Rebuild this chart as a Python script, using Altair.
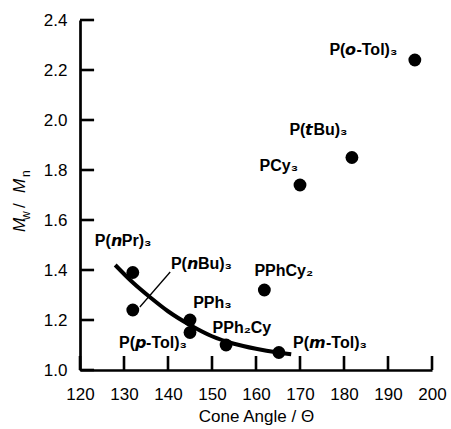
import altair as alt
import pandas as pd

# Data points (cone angle, Mw/Mn)
ligands = ["P(o-Tol)3", "P(tBu)3", "PCy3", "P(nPr)3", "P(nBu)3", "PPh3",
           "P(p-Tol)3", "PPh2Cy", "PPhCy2", "P(m-Tol)3"]
cone = [196.1, 181.8, 170.0, 132.0, 132.0, 145.0, 145.0, 153.2, 161.9, 165.2]
pdi = [2.24, 1.85, 1.74, 1.39, 1.24, 1.20, 1.15, 1.10, 1.32, 1.07]

# Label texts and label anchor positions (data coords)
label_text = ["P(𝙤-Tol)₃", "P(𝙩Bu)₃", "PCy₃", "P(𝙣Pr)₃", "P(𝙣Bu)₃", "PPh₃",
              "P(𝙥-Tol)₃", "PPh₂Cy", "PPhCy₂", "P(𝙢-Tol)₃"]
label_x = [184.4, 174.2, 165.2, 129.8, 147.6, 150.1, 136.6, 156.8, 166.3, 176.8]
label_y = [2.28, 1.96, 1.816, 1.516, 1.424, 1.268, 1.108, 1.168, 1.396, 1.108]

# Fitted trend curve
curve_x = [128, 132, 136, 140, 145, 150, 155, 160, 165, 168]
curve_y = [1.42, 1.35, 1.29, 1.235, 1.18, 1.135, 1.105, 1.085, 1.07, 1.063]

# Leader line from P(nBu)3 label to its point
leader_x = [133.6, 140.5]
leader_y = [1.252, 1.392]

x_ticks = [120, 130, 140, 150, 160, 170, 180, 190, 200]
y_ticks = [1.0, 1.2, 1.4, 1.6, 1.8, 2.0, 2.2, 2.4]

pts = pd.DataFrame({"ligand": ligands, "cone": cone, "pdi": pdi})
labs = pd.DataFrame({"text": label_text, "lx": label_x, "ly": label_y})
curve = pd.DataFrame({"cx": curve_x, "cy": curve_y})
leader = pd.DataFrame({"qx": leader_x, "qy": leader_y})
xt = pd.DataFrame({"xt": x_ticks})
yt = pd.DataFrame({"yt": y_ticks})

xs = alt.Scale(domain=[120, 200], nice=False, zero=False)
ys = alt.Scale(domain=[1.0, 2.4], nice=False, zero=False)

FONT = "Liberation Sans"

xaxis = alt.Axis(values=x_ticks, format="d", title="Cone Angle / Θ", ticks=False,
                 grid=False, labelFontSize=17, titleFontSize=17, titleFontWeight="normal",
                 labelPadding=16, titlePadding=6, domainWidth=2.7, domainColor="black",
                 labelFlush=False, labelOverlap=False,
                 labelColor="black", titleColor="black", labelFont=FONT, titleFont=FONT)
yaxis = alt.Axis(values=y_ticks, format=".1f", title=None, ticks=False, grid=False,
                 labelFontSize=17, labelPadding=13, domainWidth=2.7, domainColor="black",
                 labelFlush=False, labelOverlap=False,
                 labelColor="black", labelFont=FONT)

base_points = alt.Chart(pts).mark_circle(size=165, color="black", opacity=1).encode(
    x=alt.X("cone:Q", scale=xs, axis=xaxis),
    y=alt.Y("pdi:Q", scale=ys, axis=yaxis),
)

curve_line = alt.Chart(curve).mark_line(color="black", strokeWidth=4,
                                        interpolate="monotone").encode(
    x=alt.X("cx:Q", scale=xs), y=alt.Y("cy:Q", scale=ys))

leader_line = alt.Chart(leader).mark_line(color="black", strokeWidth=1.3).encode(
    x=alt.X("qx:Q", scale=xs), y=alt.Y("qy:Q", scale=ys))

labels = alt.Chart(labs).mark_text(font=FONT, fontWeight="bold", fontSize=16,
                                   color="black", align="center", baseline="middle").encode(
    x=alt.X("lx:Q", scale=xs), y=alt.Y("ly:Q", scale=ys), text="text:N")

# inward ticks (about 14 px long) drawn as short two-point lines through the scales
xtick_lines = (alt.Chart(xt)
               .transform_calculate(ya="1.0", yb="1.056")
               .transform_fold(["ya", "yb"], as_=["end", "yv"])
               .mark_line(color="black", strokeWidth=2.6, strokeCap="butt")
               .encode(x=alt.X("xt:Q", scale=xs), y=alt.Y("yv:Q", scale=ys),
                       detail="xt:N"))
ytick_lines = (alt.Chart(yt)
               .transform_calculate(xa="120", xb="123.2")
               .transform_fold(["xa", "xb"], as_=["end", "xv"])
               .mark_line(color="black", strokeWidth=2.6, strokeCap="butt")
               .encode(x=alt.X("xv:Q", scale=xs), y=alt.Y("yt:Q", scale=ys),
                       detail="yt:N", order="xv:Q"))

# Y title built from pieces (italic M, subscripts)
ytitle = pd.DataFrame({
    "s": ["M", "w", "/", "M", "n"],
    "px": [-55, -50, -55, -55, -50],
    "py": [212, 200, 188, 173, 157],
    "fs": [17, 12, 17, 17, 12],
    "st": ["italic", "normal", "normal", "italic", "normal"],
})
yt_layers = []
for i in range(len(ytitle)):
    r = ytitle.iloc[[i]]
    yt_layers.append(
        alt.Chart(r).mark_text(font=FONT, fontSize=int(r.fs.iloc[0]), fontStyle=r.st.iloc[0],
                               angle=270, align="left", baseline="alphabetic",
                               color="black").encode(
            x=alt.value(float(r.px.iloc[0])), y=alt.value(float(r.py.iloc[0])), text="s:N"))

chart = alt.layer(base_points, xtick_lines, ytick_lines, curve_line, leader_line, labels,
                  *yt_layers).properties(
    width=352, height=350,
    autosize=alt.AutoSizeParams(type="none"),
    padding={"left": 80, "top": 20, "right": 19, "bottom": 59},
    view=alt.ViewBackground(strokeWidth=0),
)

chart.save("out.html", embed_options={"renderer": "svg", "actions": False})
